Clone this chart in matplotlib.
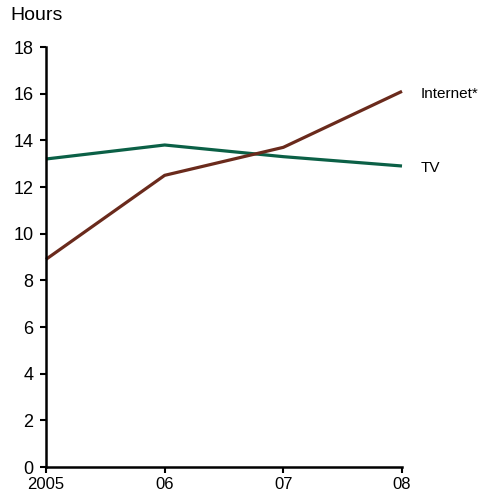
import matplotlib
matplotlib.use("Agg")
import matplotlib.pyplot as plt

plt.rcParams['font.family'] = ['Liberation Sans', 'DejaVu Sans']

# Weekly hours spent per medium
years = [2005, 2006, 2007, 2008]
year_labels = ['2005', '06', '07', '08']
tv_hours = [13.2, 13.8, 13.3, 12.9]
internet_hours = [8.9, 12.5, 13.7, 16.1]

fig = plt.figure(figsize=(4.79, 5.04), dpi=100)
ax = fig.add_axes([46 / 479, 37 / 504, 356 / 479, 420 / 504])

ax.plot(years, tv_hours, color='#0b6046', lw=2.3, solid_capstyle='butt', clip_on=False)
ax.plot(years, internet_hours, color='#6a2a1c', lw=2.3, solid_capstyle='butt', clip_on=False)

# end-of-line series labels, nudged a touch below the line end
ax.text(2008.16, internet_hours[-1] - 0.12, 'Internet*', fontsize=11, va='center', ha='left')
ax.text(2008.16, tv_hours[-1] - 0.08, 'TV', fontsize=11, va='center', ha='left')

ax.set_xlim(2005, 2008)
ax.set_ylim(0, 18)
ax.set_xticks(years)
ax.set_xticklabels(year_labels)
ax.set_yticks(range(0, 19, 2))

for side in ['top', 'right']:
    ax.spines[side].set_visible(False)
for side in ['left', 'bottom']:
    ax.spines[side].set_linewidth(1.8)
ax.tick_params(axis='y', labelsize=13, width=1.5, length=4, direction='out', pad=5)
ax.tick_params(axis='x', labelsize=12, width=1.5, length=4, direction='out', pad=3)

fig.text(10 / 479, 1 - 16 / 504, 'Hours', fontsize=14, va='center', ha='left')

fig.savefig('out.png', dpi=100)
